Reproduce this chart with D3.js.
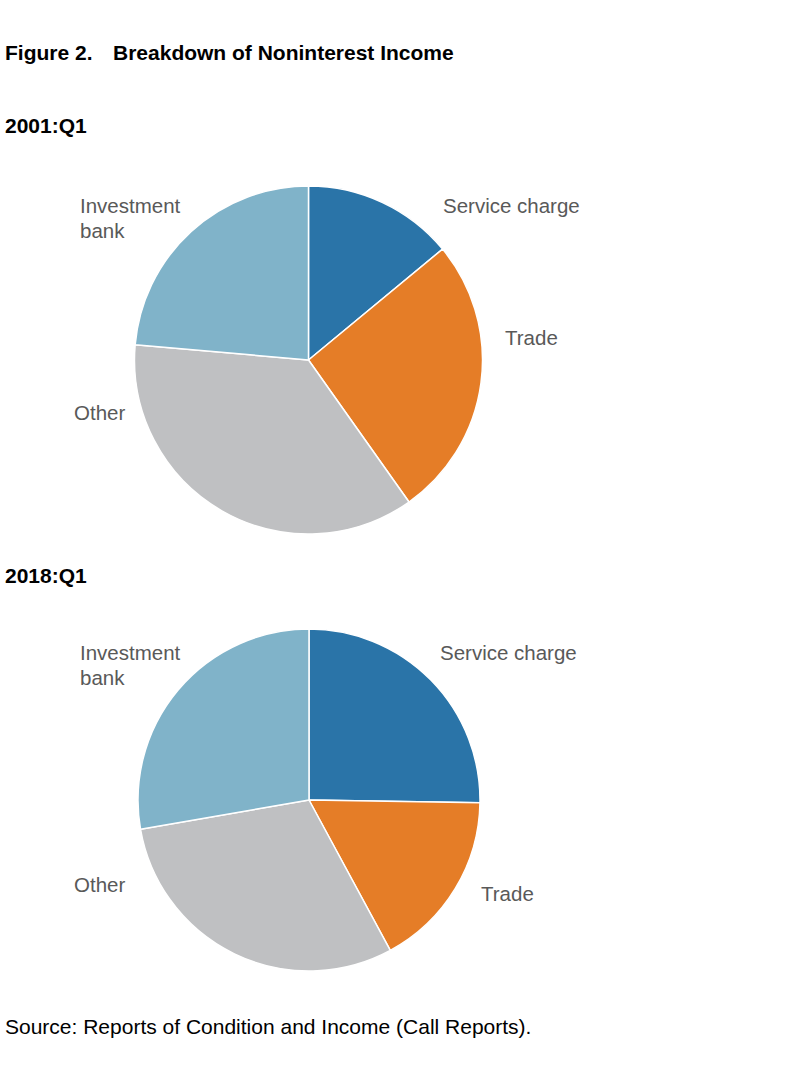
<!DOCTYPE html>
<html>
<head>
<meta charset="utf-8">
<script src="https://cdn.jsdelivr.net/npm/d3@7/dist/d3.min.js"></script>
<style>
  html, body { margin: 0; padding: 0; background: #ffffff; }
  svg { display: block; }
</style>
</head>
<body>
<script>
// ---- Data ----
const categories = ["Service charge", "Trade", "Other", "Investment bank"];
const values2001 = [14.0, 26.2, 36.2, 23.6];
const values2018 = [25.3, 16.9, 30.2, 27.8];
const periods = ["2001:Q1", "2018:Q1"];
const titleParts = ["Figure 2.", "Breakdown of Noninterest Income"];
const sourceText = "Source: Reports of Condition and Income (Call Reports).";

// ---- Styling / layout (not data) ----
const W = 800, H = 1066;
const colors = d3.scaleOrdinal()
  .domain(categories)
  .range(["#2a74a8", "#e57d27", "#bfc0c2", "#80b3c9"]);

const panels = [
  { period: periods[0], values: values2001, headY: 133, cx: 308.5, cy: 360, r: 174,
    labels: {
      "Service charge": [[443, 213]],
      "Trade": [[505, 345]],
      "Other": [[74, 420]],
      "Investment bank": [[80, 213], [80, 238]]
    } },
  { period: periods[1], values: values2018, headY: 583, cx: 309, cy: 800, r: 171,
    labels: {
      "Service charge": [[440, 660]],
      "Trade": [[481, 901]],
      "Other": [[74, 892]],
      "Investment bank": [[80, 660], [80, 685]]
    } }
];
const labelLines = {
  "Service charge": ["Service charge"],
  "Trade": ["Trade"],
  "Other": ["Other"],
  "Investment bank": ["Investment", "bank"]
};

const svg = d3.select("body").append("svg")
  .attr("width", W).attr("height", H)
  .attr("viewBox", `0 0 ${W} ${H}`);

svg.append("rect").attr("width", W).attr("height", H).attr("fill", "#ffffff");

const font = "'Liberation Sans', Arial, Helvetica, sans-serif";

const title = svg.append("text")
  .attr("y", 60)
  .attr("font-family", font).attr("font-size", 21).attr("font-weight", "bold")
  .attr("fill", "#000");
title.append("tspan").attr("x", 5).text(titleParts[0]);
title.append("tspan").attr("x", 113).text(titleParts[1]);

const pie = d3.pie().sort(null).value(d => d.value);

panels.forEach(p => {
  svg.append("text")
    .attr("x", 5).attr("y", p.headY)
    .attr("font-family", font).attr("font-size", 21).attr("font-weight", "bold")
    .attr("fill", "#000")
    .text(p.period);

  const data = categories.map((c, i) => ({ cat: c, value: p.values[i] }));
  const arc = d3.arc().innerRadius(0).outerRadius(p.r);
  const g = svg.append("g").attr("transform", `translate(${p.cx},${p.cy})`);
  g.selectAll("path")
    .data(pie(data))
    .join("path")
    .attr("d", arc)
    .attr("fill", d => colors(d.data.cat))
    .attr("stroke", "#ffffff")
    .attr("stroke-width", 1.5)
    .attr("stroke-linejoin", "round");

  categories.forEach(c => {
    const pos = p.labels[c];
    labelLines[c].forEach((line, k) => {
      svg.append("text")
        .attr("x", pos[k][0]).attr("y", pos[k][1])
        .attr("font-family", font).attr("font-size", 20.5)
        .attr("fill", "#595959")
        .text(line);
    });
  });
});

svg.append("text")
  .attr("x", 5).attr("y", 1034)
  .attr("font-family", font).attr("font-size", 21)
  .attr("fill", "#000")
  .text(sourceText);
</script>
</body>
</html>
